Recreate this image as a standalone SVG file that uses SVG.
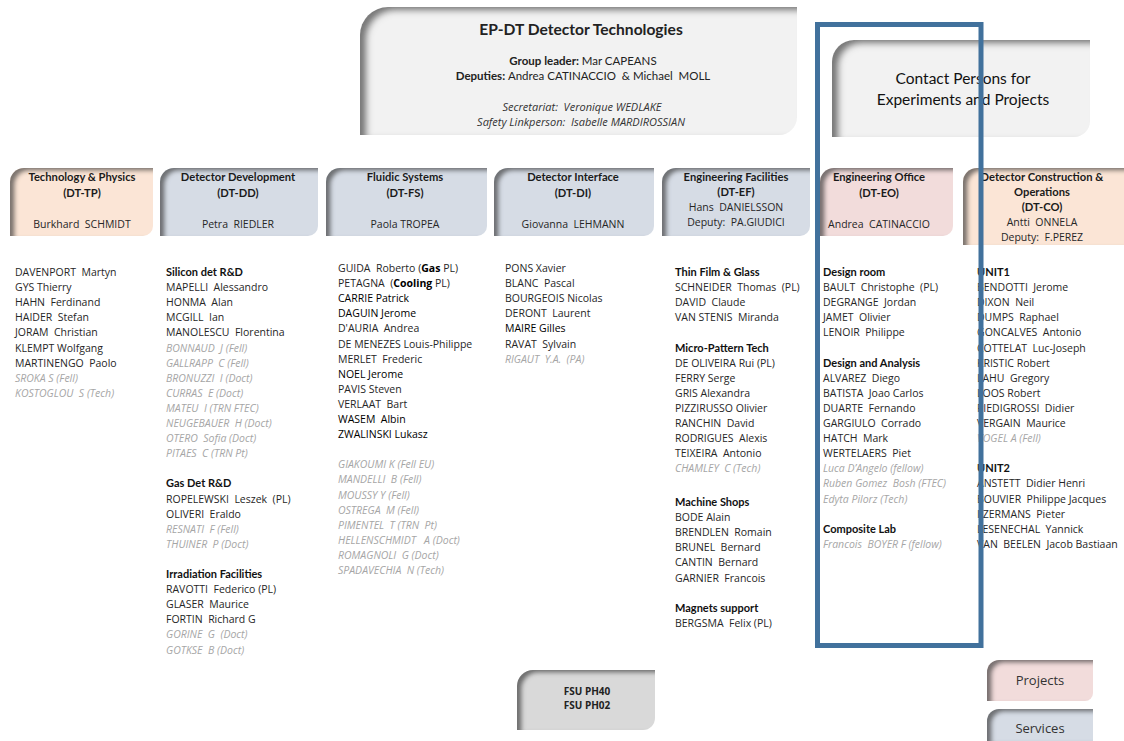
<svg xmlns="http://www.w3.org/2000/svg" width="1124" height="741" viewBox="0 0 1124 741">
<defs>
<filter id="insh" x="-20%" y="-20%" width="140%" height="140%">
<feComponentTransfer in="SourceAlpha" result="inv"><feFuncA type="table" tableValues="1 0"/></feComponentTransfer>
<feOffset in="inv" dx="5" dy="3" result="off"/>
<feGaussianBlur in="off" stdDeviation="2.2" result="blur"/>
<feFlood flood-color="#4a4a4a" flood-opacity="0.85"/>
<feComposite in2="blur" operator="in" result="sh"/>
<feComposite in="sh" in2="SourceAlpha" operator="in" result="inner"/>
<feMerge><feMergeNode in="SourceGraphic"/><feMergeNode in="inner"/></feMerge>
</filter>
<filter id="insh2" x="-20%" y="-20%" width="140%" height="140%">
<feComponentTransfer in="SourceAlpha" result="inv"><feFuncA type="table" tableValues="1 0"/></feComponentTransfer>
<feOffset in="inv" dx="7" dy="4" result="off"/>
<feGaussianBlur in="off" stdDeviation="3" result="blur"/>
<feFlood flood-color="#4a4a4a" flood-opacity="0.85"/>
<feComposite in2="blur" operator="in" result="sh"/>
<feComposite in="sh" in2="SourceAlpha" operator="in" result="inner"/>
<feMerge><feMergeNode in="SourceGraphic"/><feMergeNode in="inner"/></feMerge>
</filter>
</defs>
<style>
text{white-space:pre}
.box{filter:url(#insh)}
.bigbox{filter:url(#insh2)}
.peach{fill:#fbe5d6}
.blue{fill:#d6dce5}
.pink{fill:#f2dcdb}
.gray{fill:#f2f2f2}
.fsu{fill:#d9d9d9}
.ht{font-family:Lato,"Liberation Sans",sans-serif;font-weight:bold;font-size:11.2px;fill:#1a1a1a;text-anchor:middle}
.hn{font-family:"Open Sans","Liberation Sans",sans-serif;font-size:10.5px;fill:#262626;text-anchor:middle}
.l{font-family:"Open Sans","Liberation Sans",sans-serif;font-size:10.5px;fill:#262626}
.k{fill:#000}
.g{font-family:"Open Sans","Liberation Sans",sans-serif;font-size:10.5px;fill:#a6a6a6;font-style:italic}
.s{font-family:Lato,"Liberation Sans",sans-serif;font-size:11px;font-weight:bold;fill:#111}
.tt{font-family:Lato,"Liberation Sans",sans-serif;font-size:15.6px;font-weight:bold;fill:#222;text-anchor:middle}
.tl{font-family:Lato,"Liberation Sans",sans-serif;font-size:11.5px;fill:#222;text-anchor:middle}
.ti{font-family:"Open Sans","Liberation Sans",sans-serif;font-size:11px;font-style:italic;fill:#333;text-anchor:middle}
.cp{font-family:Lato,"Liberation Sans",sans-serif;font-size:15.5px;fill:#111;text-anchor:middle}
.leg{font-family:"Open Sans","Liberation Sans",sans-serif;font-size:13px;fill:#333;text-anchor:middle}
.fs{font-family:"Open Sans","Liberation Sans",sans-serif;font-size:10px;font-weight:bold;fill:#222;text-anchor:middle}
</style>
<rect width="1124" height="741" fill="#ffffff"/>

<g id="ep-dt">
<path class="gray bigbox" d="M360,35 A28,28 0 0 1 388,7 H797 V117 A18,18 0 0 1 779,135 H360 Z"/>
<text class="tt" x="581" y="35">EP-DT Detector Technologies</text>
<text class="tl" x="583" y="65"><tspan font-weight="bold">Group leader: </tspan>Mar CAPEANS</text>
<text class="tl" x="583" y="80"><tspan font-weight="bold">Deputies: </tspan>Andrea CATINACCIO  &amp; Michael  MOLL</text>
<text class="ti" x="582" y="111">Secretariat:  Veronique WEDLAKE</text>
<text class="ti" x="581" y="126">Safety Linkperson:  Isabelle MARDIROSSIAN</text>
</g>

<g id="contact">
<path class="gray bigbox" d="M832,62 A22,22 0 0 1 854,40 H1090 V121 A16,16 0 0 1 1074,137 H832 Z"/>
<text class="cp" x="963" y="84">Contact Persons for</text>
<text class="cp" x="963" y="105">Experiments and Projects</text>
</g>

<g id="dt-tp">
<path class="peach box" d="M10,182 A14,14 0 0 1 24,168 H153 V226 A10,10 0 0 1 143,236 H10 Z"/>
<text class="ht" x="82" y="181">Technology &amp; Physics</text>
<text class="ht" x="82" y="197">(DT-TP)</text>
<text class="hn" x="82" y="228">Burkhard  SCHMIDT</text>
<text class="l" x="15" y="276">DAVENPORT  Martyn</text>
<text class="l" x="15" y="291.1">GYS Thierry</text>
<text class="l" x="15" y="306.2">HAHN  Ferdinand</text>
<text class="l" x="15" y="321.3">HAIDER  Stefan</text>
<text class="l" x="15" y="336.4">JORAM  Christian</text>
<text class="l" x="15" y="351.5">KLEMPT Wolfgang</text>
<text class="l" x="15" y="366.6">MARTINENGO  Paolo</text>
<text class="g" x="15" y="381.7">SROKA S (Fell)</text>
<text class="g" x="15" y="396.8">KOSTOGLOU  S (Tech)</text>
</g>

<g id="dt-dd">
<path class="blue box" d="M160,182 A14,14 0 0 1 174,168 H318 V226 A10,10 0 0 1 308,236 H160 Z"/>
<text class="ht" x="238" y="181">Detector Development</text>
<text class="ht" x="238" y="197">(DT-DD)</text>
<text class="hn" x="238" y="228">Petra  RIEDLER</text>
<text class="s" x="166" y="276">Silicon det R&amp;D</text>
<text class="l" x="166" y="291.1">MAPELLI  Alessandro</text>
<text class="l" x="166" y="306.2">HONMA  Alan</text>
<text class="l" x="166" y="321.3">MCGILL  Ian</text>
<text class="l" x="166" y="336.4">MANOLESCU  Florentina</text>
<text class="g" x="166" y="351.5">BONNAUD  J (Fell)</text>
<text class="g" x="166" y="366.6">GALLRAPP  C (Fell)</text>
<text class="g" x="166" y="381.7">BRONUZZI  I (Doct)</text>
<text class="g" x="166" y="396.8">CURRAS  E (Doct)</text>
<text class="g" x="166" y="411.9">MATEU  I (TRN FTEC)</text>
<text class="g" x="166" y="427">NEUGEBAUER  H (Doct)</text>
<text class="g" x="166" y="442.1">OTERO  Sofia (Doct)</text>
<text class="g" x="166" y="457.2">PITAES  C (TRN Pt)</text>
<text class="s" x="166" y="487.4">Gas Det R&amp;D</text>
<text class="l" x="166" y="502.5">ROPELEWSKI  Leszek  (PL)</text>
<text class="l" x="166" y="517.6">OLIVERI  Eraldo</text>
<text class="g" x="166" y="532.7">RESNATI  F (Fell)</text>
<text class="g" x="166" y="547.8">THUINER  P (Doct)</text>
<text class="s" x="166" y="578">Irradiation Facilities</text>
<text class="l" x="166" y="593.1">RAVOTTI  Federico (PL)</text>
<text class="l" x="166" y="608.2">GLASER  Maurice</text>
<text class="l" x="166" y="623.3">FORTIN  Richard G</text>
<text class="g" x="166" y="638.4">GORINE  G  (Doct)</text>
<text class="g" x="166" y="653.5">GOTKSE  B (Doct)</text>
</g>

<g id="dt-fs">
<path class="blue box" d="M326,182 A14,14 0 0 1 340,168 H487 V226 A10,10 0 0 1 477,236 H326 Z"/>
<text class="ht" x="405" y="181">Fluidic Systems</text>
<text class="ht" x="405" y="197">(DT-FS)</text>
<text class="hn" x="405" y="228">Paola TROPEA</text>
<text class="l" x="338" y="272">GUIDA  Roberto (<tspan font-weight="bold" fill="#000">Gas</tspan> PL)</text>
<text class="l" x="338" y="287.1">PETAGNA  (<tspan font-weight="bold" fill="#000">Cooling</tspan> PL)</text>
<text class="l k" x="338" y="302.2">CARRIE Patrick</text>
<text class="l k" x="338" y="317.3">DAGUIN Jerome</text>
<text class="l" x="338" y="332.4">D'AURIA  Andrea</text>
<text class="l" x="338" y="347.5">DE MENEZES Louis-Philippe</text>
<text class="l" x="338" y="362.6">MERLET  Frederic</text>
<text class="l k" x="338" y="377.7">NOEL Jerome</text>
<text class="l" x="338" y="392.8">PAVIS Steven</text>
<text class="l" x="338" y="407.9">VERLAAT  Bart</text>
<text class="l k" x="338" y="423">WASEM  Albin</text>
<text class="l k" x="338" y="438.1">ZWALINSKI Lukasz</text>
<text class="g" x="338" y="468.3">GIAKOUMI K (Fell EU)</text>
<text class="g" x="338" y="483.4">MANDELLI  B (Fell)</text>
<text class="g" x="338" y="498.5">MOUSSY Y (Fell)</text>
<text class="g" x="338" y="513.6">OSTREGA  M (Fell)</text>
<text class="g" x="338" y="528.7">PIMENTEL  T (TRN  Pt)</text>
<text class="g" x="338" y="543.8">HELLENSCHMIDT   A (Doct)</text>
<text class="g" x="338" y="558.9">ROMAGNOLI  G (Doct)</text>
<text class="g" x="338" y="574">SPADAVECHIA  N (Tech)</text>
</g>

<g id="dt-di">
<path class="blue box" d="M494,182 A14,14 0 0 1 508,168 H654 V226 A10,10 0 0 1 644,236 H494 Z"/>
<text class="ht" x="573" y="181">Detector Interface</text>
<text class="ht" x="573" y="197">(DT-DI)</text>
<text class="hn" x="573" y="228">Giovanna  LEHMANN</text>
<text class="l" x="505" y="272">PONS Xavier</text>
<text class="l" x="505" y="287.1">BLANC  Pascal</text>
<text class="l" x="505" y="302.2">BOURGEOIS Nicolas</text>
<text class="l" x="505" y="317.3">DERONT  Laurent</text>
<text class="l k" x="505" y="332.4">MAIRE Gilles</text>
<text class="l" x="505" y="347.5">RAVAT  Sylvain</text>
<text class="g" x="505" y="362.6">RIGAUT  Y.A.  (PA)</text>
</g>

<g id="dt-ef">
<path class="blue box" d="M662,182 A14,14 0 0 1 676,168 H810 V226 A10,10 0 0 1 800,236 H662 Z"/>
<text class="ht" x="736" y="181">Engineering Facilities</text>
<text class="ht" x="736" y="196">(DT-EF)</text>
<text class="hn" x="736" y="210.5">Hans  DANIELSSON</text>
<text class="hn" x="736" y="225.5">Deputy:  PA.GIUDICI</text>
<text class="s" x="675" y="276">Thin Film &amp; Glass</text>
<text class="l" x="675" y="291.1">SCHNEIDER  Thomas  (PL)</text>
<text class="l" x="675" y="306.2">DAVID  Claude</text>
<text class="l" x="675" y="321.3">VAN STENIS  Miranda</text>
<text class="s" x="675" y="351.5">Micro-Pattern Tech</text>
<text class="l" x="675" y="366.6">DE OLIVEIRA Rui (PL)</text>
<text class="l" x="675" y="381.7">FERRY Serge</text>
<text class="l" x="675" y="396.8">GRIS Alexandra</text>
<text class="l" x="675" y="411.9">PIZZIRUSSO Olivier</text>
<text class="l" x="675" y="427">RANCHIN  David</text>
<text class="l" x="675" y="442.1">RODRIGUES  Alexis</text>
<text class="l" x="675" y="457.2">TEIXEIRA  Antonio</text>
<text class="g" x="675" y="472.3">CHAMLEY  C (Tech)</text>
<text class="s" x="675" y="506">Machine Shops</text>
<text class="l" x="675" y="521.1">BODE Alain</text>
<text class="l" x="675" y="536.2">BRENDLEN  Romain</text>
<text class="l" x="675" y="551.3">BRUNEL  Bernard</text>
<text class="l" x="675" y="566.4">CANTIN  Bernard</text>
<text class="l" x="675" y="581.5">GARNIER  Francois</text>
<text class="s" x="675" y="612">Magnets support</text>
<text class="l" x="675" y="627.1">BERGSMA  Felix (PL)</text>
</g>

<g id="dt-eo">
<path class="pink box" d="M820,182 A14,14 0 0 1 834,168 H953 V226 A10,10 0 0 1 943,236 H820 Z"/>
<text class="ht" x="879" y="181">Engineering Office</text>
<text class="ht" x="879" y="197">(DT-EO)</text>
<text class="hn" x="879" y="228">Andrea  CATINACCIO</text>
<text class="s" x="823" y="276">Design room</text>
<text class="l" x="823" y="291.1">BAULT  Christophe  (PL)</text>
<text class="l" x="823" y="306.2">DEGRANGE  Jordan</text>
<text class="l" x="823" y="321.3">JAMET  Olivier</text>
<text class="l" x="823" y="336.4">LENOIR  Philippe</text>
<text class="s" x="823" y="366.6">Design and Analysis</text>
<text class="l" x="823" y="381.7">ALVAREZ  Diego</text>
<text class="l" x="823" y="396.8">BATISTA  Joao Carlos</text>
<text class="l" x="823" y="411.9">DUARTE  Fernando</text>
<text class="l" x="823" y="427">GARGIULO  Corrado</text>
<text class="l" x="823" y="442.1">HATCH  Mark</text>
<text class="l" x="823" y="457.2">WERTELAERS  Piet</text>
<text class="g" x="823" y="472.3">Luca D’Angelo (fellow)</text>
<text class="g" x="823" y="487.4">Ruben Gomez  Bosh (FTEC)</text>
<text class="g" x="823" y="502.5">Edyta Pilorz (Tech)</text>
<text class="s" x="823" y="532.7">Composite Lab</text>
<text class="g" x="823" y="547.8">Francois  BOYER F (fellow)</text>
</g>

<g id="dt-co">
<path class="peach box" d="M963,182 A14,14 0 0 1 977,168 H1124 V245 H963 Z"/>
<text class="ht" x="1042" y="181">Detector Construction &amp;</text>
<text class="ht" x="1042" y="196">Operations</text>
<text class="ht" x="1042" y="211">(DT-CO)</text>
<text class="hn" x="1042" y="226">Antti  ONNELA</text>
<text class="hn" x="1042" y="241">Deputy:  F.PEREZ</text>
<text class="s" x="977" y="276">UNIT1</text>
<text class="l" x="977" y="291.1">BENDOTTI  Jerome</text>
<text class="l" x="977" y="306.2">DIXON  Neil</text>
<text class="l" x="977" y="321.3">DUMPS  Raphael</text>
<text class="l" x="977" y="336.4">GONCALVES  Antonio</text>
<text class="l" x="977" y="351.5">COTTELAT  Luc-Joseph</text>
<text class="l" x="977" y="366.6">KRISTIC Robert</text>
<text class="l" x="977" y="381.7">LAHU  Gregory</text>
<text class="l" x="977" y="396.8">LOOS Robert</text>
<text class="l" x="977" y="411.9">PIEDIGROSSI  Didier</text>
<text class="l" x="977" y="427">VERGAIN  Maurice</text>
<text class="g" x="977" y="442.1">VOGEL A (Fell)</text>
<text class="s" x="977" y="472.3">UNIT2</text>
<text class="l" x="977" y="487.4">ANSTETT  Didier Henri</text>
<text class="l" x="977" y="502.5">BOUVIER  Philippe Jacques</text>
<text class="l" x="977" y="517.6">IJZERMANS  Pieter</text>
<text class="l" x="977" y="532.7">LESENECHAL  Yannick</text>
<text class="l" x="977" y="547.8">VAN  BEELEN  Jacob Bastiaan</text>
</g>

<g id="fsu">
<path class="fsu box" d="M517,686 A16,16 0 0 1 533,670 H655 V718 A12,12 0 0 1 643,730 H517 Z"/>
<text class="fs" x="587" y="695">FSU PH40</text>
<text class="fs" x="587" y="709">FSU PH02</text>
</g>

<g id="legend-projects">
<path class="pink box" d="M987,672 A12,12 0 0 1 999,660 H1093 V693 A8,8 0 0 1 1085,701 H987 Z"/>
<text class="leg" x="1040" y="685">Projects</text>
</g>
<g id="legend-services">
<path class="blue box" d="M987,721 A12,12 0 0 1 999,709 H1093 V741 H987 Z"/>
<text class="leg" x="1040" y="733">Services</text>
</g>

<g id="connectors"></g>

<g id="highlight">
<rect x="817.5" y="24.5" width="163.5" height="621" fill="none" stroke="#41719c" stroke-width="5"/>
</g>
</svg>
